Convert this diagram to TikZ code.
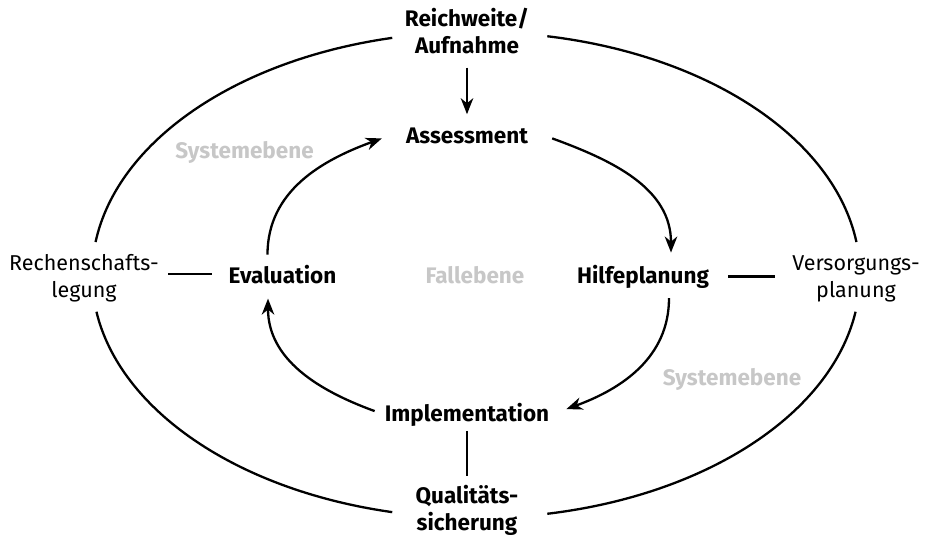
\documentclass[tikz,border=0pt]{standalone}
\usepackage{fontspec}
\setmainfont{Fira Sans}
\usetikzlibrary{arrows.meta,calc}
\begin{document}
\begin{tikzpicture}[x=1pt,y=-1pt,
  txt/.style={inner sep=0pt, anchor=base, align=center, font=\fontsize{21.5}{27}\selectfont},
  key/.style={txt, font=\fontsize{22.5}{27}\selectfont\bfseries},
  lvl/.style={key, text=black!22},
  rim/.style={line width=2.3pt},
  conn/.style={line width=2.3pt},
  arr/.style={conn, -{Stealth[length=16pt,width=12.5pt,inset=5pt]}},
]
\useasboundingbox (0,0) rectangle (927,539);

% stations of the case cycle (multi-line nodes sit on their last baseline)
\node[key] (reich)  at (467,53)    {Reichweite/\\Aufnahme};
\node[key] (assess) at (467,143)   {Assessment};
\node[key] (eval)   at (282.5,283) {Evaluation};
\node[key] (hilfe)  at (643,283)   {Hilfeplanung};
\node[key] (impl)   at (467,421.7) {Implementation};
\node[key] (qual)   at (467,530)   {Qualitäts-\\sicherung};

% system-level counterparts
\node[txt] (rech) at (84,297)  {Rechenschafts-\\legung};
\node[txt] (vers) at (856,297) {Versorgungs-\\planung};

% level labels
\node[lvl] (sysA) at (244.5,158) {Systemebene};
\node[lvl] (sysB) at (732,385)   {Systemebene};
\node[lvl] (fall) at (475,283)   {Fallebene};

% outer ring, broken at the four labels
\coordinate (O) at (476,275);
\draw[rim] ($(O)+(280.7:384 and 243)$) arc[start angle=280.7, end angle=352.2, x radius=384, y radius=243];
\draw[rim] ($(O)+(8.7:384 and 243)$)   arc[start angle=8.7,   end angle=79.3,  x radius=384, y radius=243];
\draw[rim] ($(O)+(102.6:384 and 243)$) arc[start angle=102.6, end angle=171.3, x radius=384, y radius=243];
\draw[rim] ($(O)+(187.8:384 and 243)$) arc[start angle=187.8, end angle=257.4, x radius=384, y radius=243];

% case cycle
\draw[arr, shorten <=14pt, shorten >=13pt] (reich.south) -- (assess.north);
\draw[arr] ([xshift=-15pt,yshift=10pt]eval.north) to[out=90,in=200] ([xshift=-24pt,yshift=-3pt]assess.west);
\draw[arr] ([xshift=24pt,yshift=-3pt]assess.east) to[out=-20,in=90] ([xshift=28pt,yshift=12pt]hilfe.north);
\draw[arr] ([xshift=26pt,yshift=-10pt]hilfe.south) to[out=-90,in=20] ([xshift=17pt,yshift=6pt]impl.east);
\draw[arr] ([xshift=-10pt,yshift=4pt]impl.west) to[out=160,in=-90] ([xshift=-14.5pt,yshift=-15pt]eval.south);

% links between case and system level
\draw[conn, shorten <=17pt, shorten >=9pt]  (eval.west) -- (eval.west -| rech.east);
\draw[conn, shorten <=19pt, shorten >=17pt] (hilfe.east) -- (hilfe.east -| vers.west);
\draw[conn, shorten <=4pt, shorten >=9pt]   (impl.south) -- (qual.north);
\end{tikzpicture}
\end{document}
